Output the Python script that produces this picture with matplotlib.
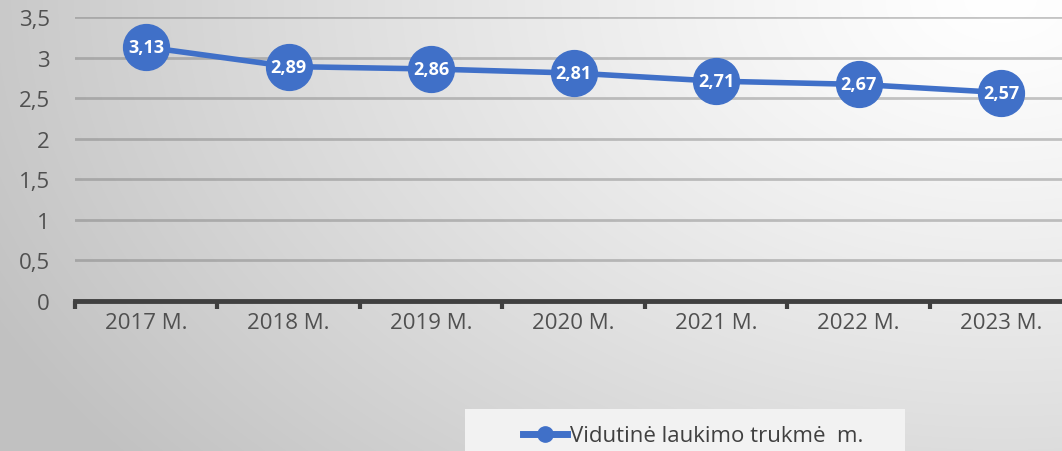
import numpy as np
import matplotlib
matplotlib.use("Agg")
import matplotlib.pyplot as plt
from matplotlib.patches import Rectangle

years = ["2017 M.", "2018 M.", "2019 M.", "2020 M.", "2021 M.", "2022 M.", "2023 M."]
values = [3.13, 2.89, 2.86, 2.81, 2.71, 2.67, 2.57]
series_name = "Vidutinė laukimo trukmė  m."
yticks = [0, 0.5, 1, 1.5, 2, 2.5, 3, 3.5]

plt.rcParams['font.family'] = ['Open Sans', 'DejaVu Sans']
blue = "#4070C8"

fig = plt.figure(figsize=(10.62, 4.52), dpi=100)

# background: radial gradient, light in the top right corner
bg = fig.add_axes([0, 0, 1, 1], zorder=-10)
yy, xx = np.mgrid[0:452, 0:1062]
d = np.sqrt(((xx - 1000) / 1062.0) ** 2 + ((yy - 0) / 700.0) ** 2)
d = np.clip(d / 1.05, 0, 1)
shade = 1.0 - 0.24 * d ** 1.2
bg.imshow(np.dstack([shade, shade, shade]), aspect="auto", extent=[0, 1, 0, 1])
bg.axis("off")

ax = fig.add_axes([0.0706, 0.332, 0.939, 0.628])
ax.patch.set_alpha(0)
x = np.arange(len(years))
ax.plot(x, values, color=blue, lw=4, marker="o", ms=33, mfc=blue, mec=blue, zorder=3)
for xi, v in zip(x, values):
    ax.text(xi, v, f"{v:.2f}".replace(".", ","), color="white", fontsize=13,
            fontweight="bold", ha="center", va="center", zorder=4)

ax.set_xlim(-0.5, len(years) - 0.5)
ax.set_ylim(0, 3.5)
ax.set_yticks(yticks)
ax.set_yticklabels([f"{t:g}".replace(".", ",") for t in yticks])
ax.set_xticks(x)
ax.set_xticklabels(years)
ax.set_xticks(np.arange(-0.5, len(years)), minor=True)
ax.tick_params(axis="x", which="major", length=0, pad=8, labelsize=16, labelcolor="#505050")
ax.tick_params(axis="x", which="minor", length=6, width=3, color="#404040", direction="out")
ax.tick_params(axis="y", length=0, pad=18, labelsize=16, labelcolor="#505050")
for yt in yticks[1:]:
    ax.axhline(yt, color="#707070", alpha=0.4, lw=2, zorder=1)
for s in ["top", "right", "left"]:
    ax.spines[s].set_visible(False)
ax.spines["bottom"].set_color("#404040")
ax.spines["bottom"].set_linewidth(3.5)

# legend box
fig.patches.append(Rectangle((465 / 1062, 0), 440 / 1062, 42 / 452, transform=fig.transFigure,
                             facecolor="#f2f2f2", edgecolor="none", zorder=-5))
leg = fig.legend([plt.Line2D([], [], color=blue, lw=5, marker="o", ms=11)],
                 [series_name], loc="center left", bbox_to_anchor=(503 / 1062, 15 / 452),
                 fontsize=16, frameon=False, handlelength=2.0, handletextpad=0.1)
for t in leg.get_texts():
    t.set_color("#404040")

fig.savefig("out.png", dpi=100)
